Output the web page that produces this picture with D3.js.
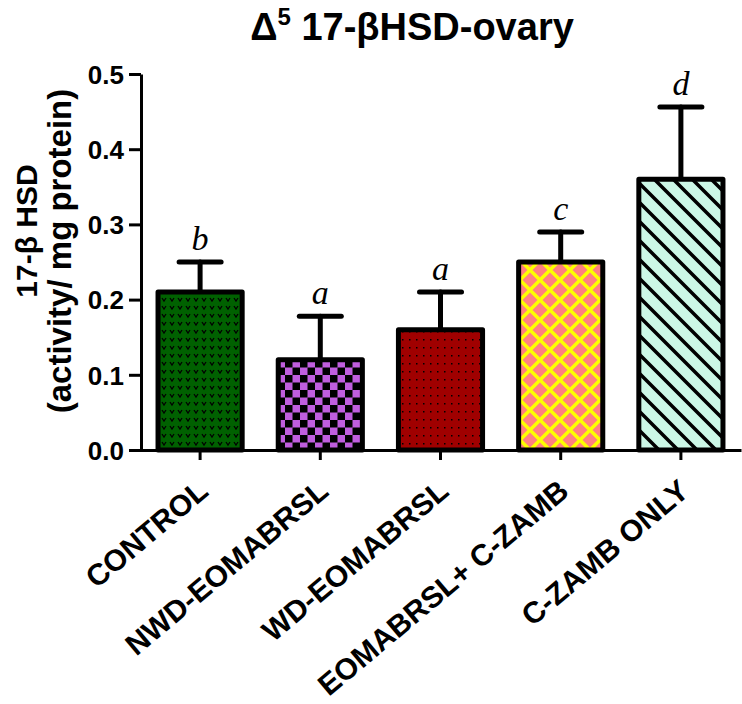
<!DOCTYPE html>
<html>
<head>
<meta charset="utf-8">
<script src="https://cdn.jsdelivr.net/npm/d3@7"></script>
<style>
  body { margin: 0; background: white; }
  text { font-family: "Liberation Sans", Arial, sans-serif; }
</style>
</head>
<body>
<svg id="chart"></svg>
<script>
// values
var categories = ["CONTROL", "NWD-EOMABRSL", "WD-EOMABRSL", "EOMABRSL+ C-ZAMB", "C-ZAMB ONLY"];
var means = [0.21, 0.12, 0.16, 0.25, 0.36];
var errors = [0.04, 0.058, 0.05, 0.04, 0.096];
var letters = ["b", "a", "a", "c", "d"];
var yTicks = [0.0, 0.1, 0.2, 0.3, 0.4, 0.5];
var patternIds = ["pGreen", "pChecker", "pDots", "pCross", "pHatch"];

var dimensions = {
    width: 742,
    height: 704,
    margin: { top: 74, bottom: 254, left: 141, right: 2 }
}

var svg = d3.select("#chart")
    .attr("width", dimensions.width)
    .attr("height", dimensions.height);

var defs = svg.append("defs");

// green with small black v marks
var pg = defs.append("pattern").attr("id", "pGreen")
    .attr("patternUnits", "userSpaceOnUse").attr("width", 8).attr("height", 8);
pg.append("rect").attr("width", 8).attr("height", 8).attr("fill", "#006100");
pg.append("path").attr("d", "M2,2 L4,5 L6,2").attr("stroke", "#000").attr("stroke-width", 1.3).attr("fill", "none");

// purple / black checkerboard
var pc = defs.append("pattern").attr("id", "pChecker")
    .attr("patternUnits", "userSpaceOnUse").attr("width", 15).attr("height", 15);
pc.append("rect").attr("width", 15).attr("height", 15).attr("fill", "#c05ede");
pc.append("rect").attr("width", 7.5).attr("height", 7.5).attr("fill", "#000");
pc.append("rect").attr("x", 7.5).attr("y", 7.5).attr("width", 7.5).attr("height", 7.5).attr("fill", "#000");

// dark red with black dots
var pd = defs.append("pattern").attr("id", "pDots")
    .attr("patternUnits", "userSpaceOnUse").attr("width", 7).attr("height", 8);
pd.append("rect").attr("width", 7).attr("height", 8).attr("fill", "#a00000");
pd.append("rect").attr("x", 3).attr("y", 3).attr("width", 1.5).attr("height", 1.5).attr("fill", "#000");

// salmon with yellow crosshatch
var px = defs.append("pattern").attr("id", "pCross")
    .attr("patternUnits", "userSpaceOnUse").attr("width", 20).attr("height", 20);
px.append("rect").attr("width", 20).attr("height", 20).attr("fill", "#ff8080");
px.append("path").attr("d", "M-5,-5 L25,25 M-5,15 L5,25 M15,-5 L25,5 M25,-5 L-5,25 M5,-5 L-5,5 M25,15 L15,25")
    .attr("stroke", "#ffff00").attr("stroke-width", 3.5);

// mint with black diagonal hatch
var ph = defs.append("pattern").attr("id", "pHatch")
    .attr("patternUnits", "userSpaceOnUse").attr("width", 19).attr("height", 19);
ph.append("rect").attr("width", 19).attr("height", 19).attr("fill", "#ccf7e6");
ph.append("path").attr("d", "M-5,-5 L24,24 M-5,14 L5,24 M14,-5 L24,5")
    .attr("stroke", "#000").attr("stroke-width", 3.5);

var xScale = d3.scaleBand()
    .domain(categories)
    .range([dimensions.margin.left - 1, dimensions.width - dimensions.margin.right + 1])
    .paddingInner(0.3)
    .paddingOuter(0.15);

var yScale = d3.scaleLinear()
    .domain([0, 0.5])
    .range([dimensions.height - dimensions.margin.bottom, dimensions.margin.top]);

var rows = categories.map((c, i) => ({
    cat: c, mean: means[i], err: errors[i], letter: letters[i], pat: patternIds[i]
}));

// error bars (drawn first so bar outline covers the stem base)
var cap = 21;
var eb = svg.selectAll(".err").data(rows).enter().append("g").attr("class", "err")
    .attr("stroke", "#000").attr("stroke-width", 5).attr("stroke-linecap", "round");
eb.append("line")
    .attr("x1", d => xScale(d.cat) + xScale.bandwidth() / 2)
    .attr("x2", d => xScale(d.cat) + xScale.bandwidth() / 2)
    .attr("y1", d => yScale(d.mean))
    .attr("y2", d => yScale(d.mean + d.err));
eb.append("line")
    .attr("x1", d => xScale(d.cat) + xScale.bandwidth() / 2 - cap)
    .attr("x2", d => xScale(d.cat) + xScale.bandwidth() / 2 + cap)
    .attr("y1", d => yScale(d.mean + d.err))
    .attr("y2", d => yScale(d.mean + d.err));

// bars
svg.selectAll(".bar").data(rows).enter().append("rect")
    .attr("class", "bar")
    .attr("x", d => xScale(d.cat))
    .attr("width", xScale.bandwidth())
    .attr("y", d => yScale(d.mean))
    .attr("height", d => yScale(0) - yScale(d.mean))
    .attr("fill", d => `url(#${d.pat})`)
    .attr("stroke", "#000")
    .attr("stroke-width", 5)
    .attr("stroke-linejoin", "round");

// significance letters
svg.selectAll(".sig").data(rows).enter().append("text")
    .attr("class", "sig")
    .attr("x", d => xScale(d.cat) + xScale.bandwidth() / 2)
    .attr("y", d => yScale(d.mean + d.err) - 12)
    .attr("text-anchor", "middle")
    .style("font-family", "'Liberation Serif', 'Times New Roman', serif")
    .style("font-style", "italic")
    .style("font-size", "34px")
    .text(d => d.letter);

// y axis
var yAxis = svg.append("g")
    .attr("class", "y-axis")
    .attr("transform", `translate(${dimensions.margin.left},0)`)
    .call(d3.axisLeft(yScale).tickValues(yTicks).tickFormat(d3.format(".1f")).tickSize(12).tickSizeOuter(0));
yAxis.select(".domain").attr("stroke-width", 3);
yAxis.selectAll(".tick line").attr("stroke-width", 3);
yAxis.selectAll(".tick text")
    .attr("x", -17)
    .attr("dy", "0.36em")
    .style("font-size", "26px")
    .style("font-weight", "bold")
    .attr("fill", "#000");

// x axis
var xAxis = svg.append("g")
    .attr("class", "x-axis")
    .attr("transform", `translate(0,${yScale(0)})`)
    .call(d3.axisBottom(xScale).tickSize(10).tickSizeOuter(0));
xAxis.select(".domain").attr("stroke-width", 3);
xAxis.selectAll(".tick line").attr("stroke-width", 3);
xAxis.selectAll(".tick text")
    .attr("y", 0)
    .attr("dy", 0)
    .attr("text-anchor", "end")
    .attr("transform", "translate(10,44) rotate(-40)")
    .style("font-size", "30px")
    .style("font-weight", "bold")
    .attr("fill", "#000");

// y label, two lines
svg.append("text")
    .attr("transform", "translate(37,231) rotate(-90)")
    .attr("text-anchor", "middle")
    .style("font-size", "30px")
    .style("font-weight", "bold")
    .text("17-β HSD");
svg.append("text")
    .attr("transform", "translate(71,251) rotate(-90)")
    .attr("text-anchor", "middle")
    .style("font-size", "33px")
    .style("font-weight", "bold")
    .text("(activity/ mg protein)");

// title
var title = svg.append("text")
    .attr("x", 412)
    .attr("y", 40)
    .attr("text-anchor", "middle")
    .style("font-size", "38px")
    .style("font-weight", "bold");
title.append("tspan").text("Δ");
title.append("tspan").attr("dy", -15).style("font-size", "24px").text("5");
title.append("tspan").attr("dy", 15).text(" 17-βHSD-ovary");
</script>
</body>
</html>
